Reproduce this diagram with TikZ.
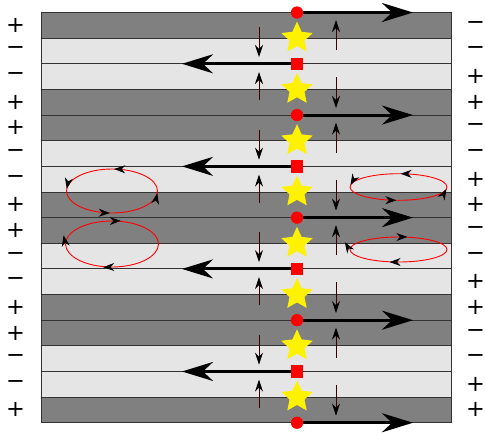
\documentclass[tikz,border=0pt]{standalone}
\usepackage{fontspec}
\setmainfont{DejaVu Sans}
\usetikzlibrary{arrows.meta,shapes.geometric,decorations.markings}
\definecolor{shaft}{RGB}{60,0,0}

\begin{document}
\begin{tikzpicture}[x=1pt, y=1pt,
  dark/.style  = {fill=black!50, draw=black!80, line width=0.9pt},
  light/.style = {fill=black!10, draw=black!80, line width=0.9pt},
  sign/.style  = {inner sep=0pt, font=\fontsize{22.5}{27}\selectfont},
  dot/.style   = {circle, fill=red, inner sep=0pt, minimum size=12pt},
  box/.style   = {rectangle, fill=red, inner sep=0pt, minimum size=12.5pt},
  starnode/.style = {star, star points=5, star point ratio=2.1, fill=yellow,
    inner sep=0pt, minimum size=33pt},
  arr/.style   = {line width=3pt, -{Stealth[length=31pt,width=19pt,inset=10pt]}},
  thin/.style  = {shaft, line width=0.8pt,
    -{Stealth[black,length=12pt,width=8pt,inset=4pt]}},
  ccw/.style   = {red, line width=0.9pt, postaction={decorate},
    decoration={markings, mark=between positions 0.24 and 0.99 step 0.25
      with {\arrow{Stealth[black,length=11pt,width=8pt,inset=3.5pt]}}}},
  cw/.style    = {red, line width=0.9pt, postaction={decorate},
    decoration={markings, mark=between positions 0.26 and 1 step 0.25
      with {\arrow{Stealth[black,reversed,length=11pt,width=8pt,inset=3.5pt]}}}}
  ]
  \useasboundingbox (0,0) rectangle (485,-432);

  % stripes and signs
  \foreach \i/\s/\l/\r in {0/dark/+/−, 1/light/−/−, 2/light/−/+, 3/dark/+/+,
      4/dark/+/−, 5/light/−/−, 6/light/−/+, 7/dark/+/+,
      8/dark/+/−, 9/light/−/−, 10/light/−/+, 11/dark/+/+,
      12/dark/+/−, 13/light/−/−, 14/light/−/+, 15/dark/+/+} {
    \pgfmathsetmacro\ya{-12.5-25.64*\i}
    \pgfmathsetmacro\yb{\ya-25.64}
    \pgfmathsetmacro\ym{\ya-12.82}
    \draw[\s] (41,\ya) rectangle (451,\yb);
    \node[sign] (l\i) at (15.5,\ym) {\l};
    \node[sign] (r\i) at (475.5,\ym) {\r};
  }

  % small vertical arrows
  \foreach \k in {0,...,3} {
    \pgfmathsetmacro\p{-12.5-102.56*\k}
    \draw[thin] (259,\p-14.5) -- (259,\p-44.5);
    \draw[thin] (259,\p-87.5) -- (259,\p-59.5);
    \draw[thin] (336,\p-37.5) -- (336,\p-7.5);
    \draw[thin] (336,\p-64.5) -- (336,\p-95.5);
  }

  % loops
  \draw[ccw] (112,-191) ellipse [x radius=45.5pt, y radius=22pt];
  \draw[cw]  (112,-244) ellipse [x radius=46.5pt, y radius=23pt];
  \draw[ccw] (398.5,-187) ellipse [x radius=48.5pt, y radius=13.3pt];
  \draw[cw]  (398.5,-249.5) ellipse [x radius=48.5pt, y radius=12.5pt];

  % markers on the middle line
  \foreach \k in {1,...,8}
    \node[starnode] (t\k) at (297,{-12.5-25.64*(2*\k-1)}) {};
  \foreach \k in {0,...,4} {
    \node[dot] (c\k) at (297,{-12.5-102.56*\k}) {};
    \coordinate (ce\k) at (413,{-12.5-102.56*\k});
    \draw[arr] (c\k) -- (ce\k);
    \node[dot] at (c\k) {};
  }
  \foreach \k in {0,...,3} {
    \node[box] (s\k) at (297,{-63.8-102.56*\k}) {};
    \coordinate (se\k) at (182,{-63.8-102.56*\k});
    \draw[arr] (s\k) -- (se\k);
  }
\end{tikzpicture}
\end{document}
